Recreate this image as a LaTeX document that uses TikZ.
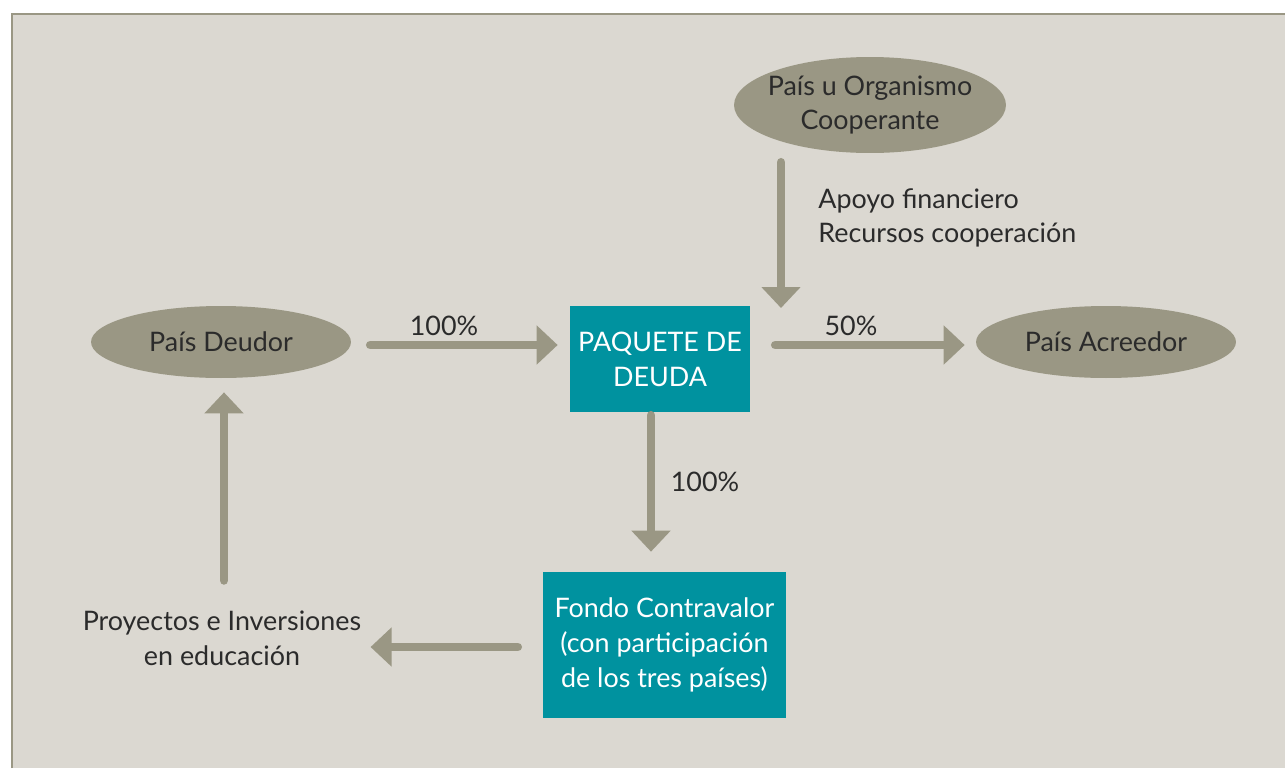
\documentclass[tikz,border=0pt]{standalone}
\usepackage{fontspec}
\setmainfont{Lato}
\usetikzlibrary{shapes.geometric,arrows.meta,calc}
\definecolor{fondo}{HTML}{DBD8D1}
\definecolor{gris}{HTML}{9A9784}
\definecolor{turq}{HTML}{00929F}
\definecolor{texto}{HTML}{2B2B2B}
\begin{document}
\begin{tikzpicture}[
	x=0.02cm, y=-0.02cm,
	every node/.style={font=\fontsize{15.3}{19.8}\selectfont, text=texto},
	pais/.style={ellipse, fill=gris, inner sep=0pt},
	caja/.style={rectangle, fill=turq, text=white, align=center, inner sep=0pt},
	flujo/.style={draw=gris, line width=5pt, line cap=round,
		-{Triangle[width=0.76cm, length=0.42cm]}},
	etiq/.style={inner sep=0pt},
	]
\useasboundingbox (0,0) rectangle (1285,768);
\fill[fondo] (12,14) rectangle (1285,768);
\draw[gris, line width=1.7pt] (12,768) -- (12,14) -- (1285,14);

\node [pais, inner xsep=-0.13cm, minimum width=5.44cm, minimum height=1.92cm, align=center] (coop) at (870,105) {País u Organismo\\Cooperante};
\node [pais, minimum width=5.2cm, minimum height=1.44cm] (deudor) at (221,342) {País Deudor};
\node [pais, minimum width=5.2cm, minimum height=1.44cm] (acreedor) at (1106,342) {País Acreedor};
\node [caja, minimum width=3.6cm, minimum height=2.12cm] (paquete) at (660,359) {PAQUETE DE\\DEUDA};
\node [caja, minimum width=4.86cm, minimum height=2.92cm] (fondoc) at (664.5,645) {Fondo Contravalor\\(con participación\\de los tres países)};
\node [etiq, align=center] (proyectos) at (222,638) {Proyectos e Inversiones\\en educación};
\coordinate (entrada) at (781,308);

\draw [flujo, shorten <=0.38cm, shorten >=0.24cm] (deudor.east |- 0,345) -- (paquete.west |- 0,345);
\draw [flujo, shorten <=0.5cm, shorten >=0.22cm] (paquete.east |- 0,345) -- (acreedor.west |- 0,345);
\draw [flujo, shorten <=0.18cm] (coop.south -| entrada) -- (entrada);
\draw [flujo, shorten <=0.06cm, shorten >=0.4cm] ([xshift=-0.18cm]paquete.south) -- ([xshift=-0.18cm]paquete.south |- fondoc.north);
\draw [flujo, shorten <=0.5cm, shorten >=0.18cm] (fondoc.west |- 0,647) -- (proyectos.east |- 0,647);
\draw [flujo, shorten <=0.6cm, shorten >=0.28cm] ([xshift=0.04cm]proyectos.north) -- ([xshift=0.04cm]proyectos.north |- deudor.south);

\node [etiq] (l1) at (444,326) {100\%};
\node [etiq] (l2) at (851,326) {50\%};
\node [etiq] (l3) at (705,482) {100\%};
\node [etiq, anchor=west, align=left] (l4) at (818,218) {Apoyo financiero\\Recursos cooperación};
\end{tikzpicture}
\end{document}
